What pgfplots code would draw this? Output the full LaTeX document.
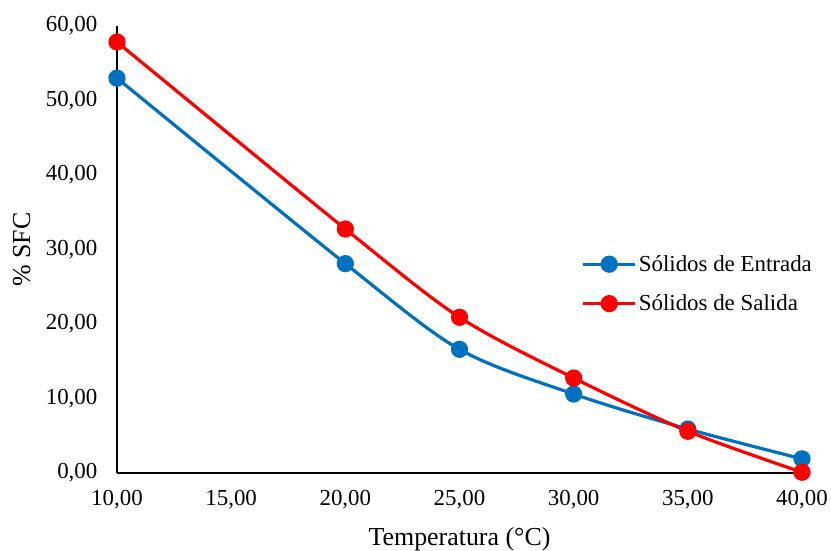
\documentclass[border=0pt]{standalone}
\usepackage{pgfplots}
\pgfplotsset{compat=1.18}
\usepackage{fontspec}
\setmainfont{Liberation Serif}
\definecolor{cblue}{HTML}{0070C0}
\definecolor{cred}{HTML}{FF0000}
\begin{document}
\begin{tikzpicture}
\path[use as bounding box] (-117bp,-78bp) rectangle (714bp,473bp);
\begin{axis}[
  scale only axis,
  width=685bp, height=447bp,
  xmin=10, xmax=40, ymin=0, ymax=60,
  xtick={10,15,...,40}, ytick={0,10,...,60},
  axis x line=bottom, axis y line=left,
  axis line style={line width=1.2bp, black, -},
  tick style={draw=none},
  ticklabel style={font=\fontsize{23}{25}\selectfont},
  /pgf/number format/.cd, fixed, fixed zerofill, precision=2, use comma, 1000 sep={}, assume math mode=true,
  /pgfplots/.cd,
  xticklabel style={yshift=-12bp},
  yticklabel style={xshift=-14bp},
  xlabel={Temperatura (°C)}, ylabel={\% SFC},
  label style={font=\fontsize{26}{28}\selectfont},
  xlabel style={at={(axis description cs:0.5,0)}, anchor=south, yshift=-82bp},
  ylabel style={at={(axis description cs:-0.139,0.5)}, anchor=center},
  legend style={draw=none, fill=none, font=\fontsize{23}{25}\selectfont,
    at={(axis description cs:0.678,0.423)}, anchor=west, row sep=18bp,
    inner sep=0pt},
  legend cell align=left,
  legend image code/.code={
    \draw[#1, mark repeat=2, mark phase=2] plot coordinates {(0bp,0bp) (26bp,0bp) (52bp,0bp)};
  },
  clip=false,
]
\addplot[cblue, line width=3.2bp, smooth, mark=*, mark size=7bp, mark options={solid, fill=cblue, draw=cblue}]
  coordinates {(10,53.0) (20,28.1) (25,16.6) (30,10.6) (35,5.9) (40,1.9)};
\addlegendentry{Sólidos de Entrada}
\addplot[cred, line width=3.2bp, smooth, mark=*, mark size=7bp, mark options={solid, fill=cred, draw=cred}]
  coordinates {(10,57.85) (20,32.75) (25,20.9) (30,12.75) (35,5.6) (40,0.1)};
\addlegendentry{Sólidos de Salida}
\end{axis}
\end{tikzpicture}
\end{document}
